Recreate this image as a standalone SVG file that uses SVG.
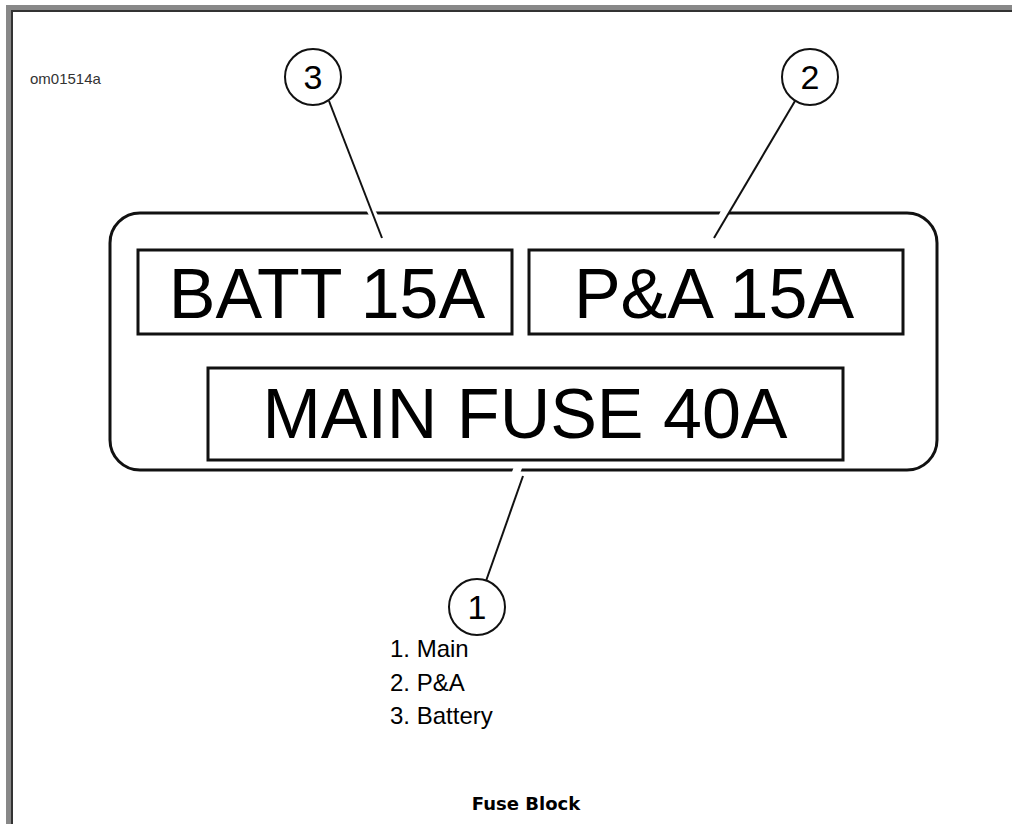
<svg xmlns="http://www.w3.org/2000/svg" width="1012" height="824" viewBox="0 0 1012 824">
<style>
.box{fill:none;stroke:#111;stroke-width:3}
.ln{stroke:#111;stroke-width:2;fill:none}
.halo{stroke:#fff;stroke-width:8;fill:none}
.circ{fill:#fff;stroke:#111;stroke-width:2}
.big{font-family:"Liberation Sans",Arial,sans-serif;font-size:70px;fill:#000;text-anchor:middle}
.num{font-family:"Liberation Sans",Arial,sans-serif;font-size:34px;fill:#000;text-anchor:middle}
.lst{font-family:"Liberation Sans",Arial,sans-serif;font-size:24px;fill:#000}
</style>
<rect x="0" y="0" width="1012" height="824" fill="#fff"/>
<g id="frame">
<rect x="6" y="5" width="1006" height="5" fill="#888"/>
<rect x="6" y="5" width="5" height="819" fill="#888"/>
<rect x="11" y="10" width="1001" height="2" fill="#333"/>
<rect x="11" y="10" width="2" height="814" fill="#333"/>
</g>
<text x="30" y="84" font-family="Liberation Sans,Arial,sans-serif" font-size="15" fill="#333">om01514a</text>
<g id="fuse-block">
<rect class="box" x="110" y="213" width="827" height="257" rx="30"/>
</g>
<g id="connectors">
<line class="halo" x1="368" y1="205" x2="377" y2="222"/>
<line class="ln" x1="329" y1="101" x2="382" y2="238"/>
<line class="halo" x1="728" y1="205" x2="720" y2="222"/>
<line class="ln" x1="795" y1="101" x2="714" y2="238"/>
<line class="halo" x1="520" y1="462" x2="514" y2="478"/>
<line class="ln" x1="523" y1="476" x2="486" y2="581"/>
</g>
<g id="batt">
<rect class="box" x="138" y="250" width="374" height="84"/>
<text class="big" x="327" y="318">BATT 15A</text>
</g>
<g id="pa">
<rect class="box" x="529" y="250" width="374" height="84"/>
<text class="big" x="714" y="318">P&amp;A 15A</text>
</g>
<g id="main">
<rect class="box" x="208" y="368" width="635" height="92"/>
<text class="big" x="525" y="438">MAIN FUSE 40A</text>
</g>
<g id="c3">
<circle class="circ" cx="313" cy="77" r="28"/>
<text class="num" x="313" y="89">3</text>
</g>
<g id="c2">
<circle class="circ" cx="810" cy="77" r="28"/>
<text class="num" x="810" y="89">2</text>
</g>
<g id="c1">
<circle class="circ" cx="477" cy="607" r="28"/>
<text class="num" x="477" y="619">1</text>
</g>
<g id="legend">
<text class="lst" x="390" y="657">1. Main</text>
<text class="lst" x="390" y="691">2. P&amp;A</text>
<text class="lst" x="390" y="724">3. Battery</text>
</g>
<text x="526" y="810" font-family="DejaVu Sans,Verdana,sans-serif" font-weight="bold" font-size="18" fill="#000" text-anchor="middle">Fuse Block</text>
</svg>
